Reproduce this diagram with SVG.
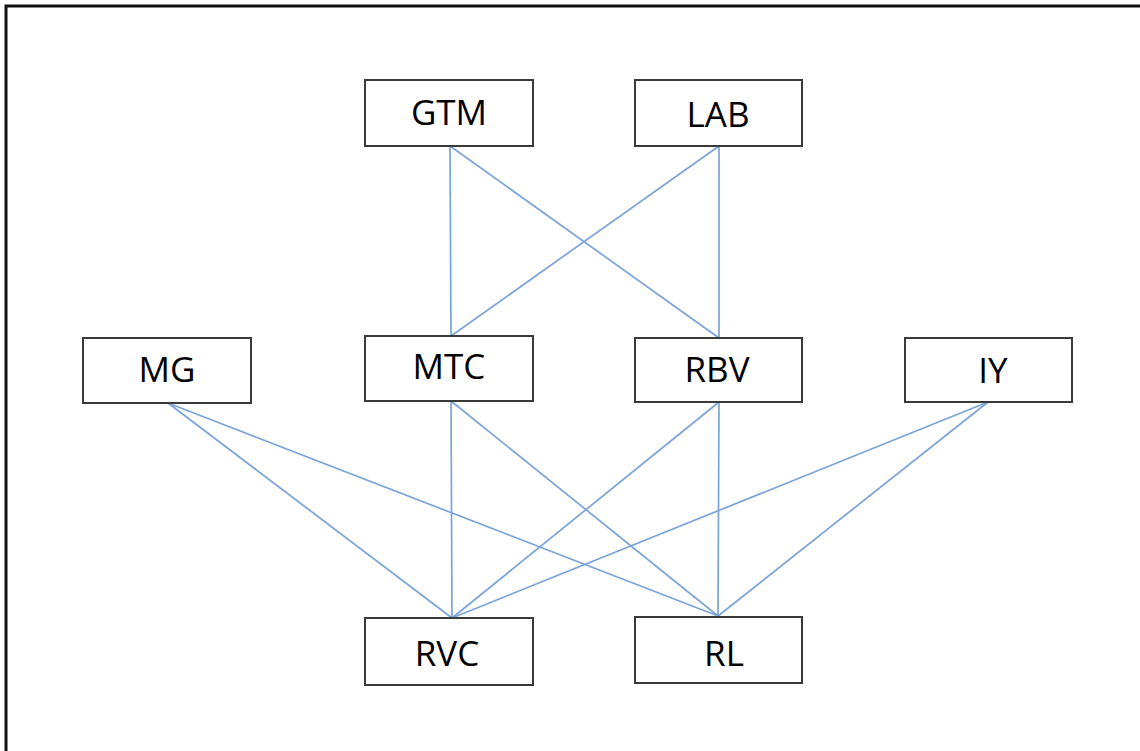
<svg xmlns="http://www.w3.org/2000/svg" width="1140" height="751" viewBox="0 0 1140 751">
<style>
.box{fill:#fff;stroke:#3a3a3a;stroke-width:2}
.lbl{font-family:"Open Sans","Liberation Sans",sans-serif;font-size:35px;fill:#000;text-anchor:middle}
.edge{stroke:#7aa3d8;stroke-width:1.7;fill:none}
</style>
<rect width="1140" height="751" fill="#fff"/>
<path d="M6,751 V6 H1140" fill="none" stroke="#111" stroke-width="3"/>
<g id="connectors">
<line class="edge" x1="450" y1="146" x2="451" y2="336"/>
<line class="edge" x1="450" y1="146" x2="719" y2="338"/>
<line class="edge" x1="719" y1="146" x2="451" y2="336"/>
<line class="edge" x1="719" y1="146" x2="719" y2="338"/>
<line class="edge" x1="168" y1="403" x2="452" y2="618"/>
<line class="edge" x1="168" y1="403" x2="718" y2="616"/>
<line class="edge" x1="451" y1="401" x2="452" y2="618"/>
<line class="edge" x1="451" y1="401" x2="718" y2="616"/>
<line class="edge" x1="719" y1="402" x2="452" y2="618"/>
<line class="edge" x1="719" y1="402" x2="718" y2="616"/>
<line class="edge" x1="988" y1="402" x2="452" y2="618"/>
<line class="edge" x1="988" y1="402" x2="718" y2="616"/>
</g>
<g id="GTM"><rect class="box" x="365" y="80" width="168" height="66"/><text class="lbl" x="449" y="125">GTM</text></g>
<g id="LAB"><rect class="box" x="635" y="80" width="167" height="66"/><text class="lbl" x="718" y="127">LAB</text></g>
<g id="MG"><rect class="box" x="83" y="338" width="168" height="65"/><text class="lbl" x="167" y="382">MG</text></g>
<g id="MTC"><rect class="box" x="365" y="336" width="168" height="65"/><text class="lbl" x="449" y="379">MTC</text></g>
<g id="RBV"><rect class="box" x="635" y="338" width="167" height="64"/><text class="lbl" x="717" y="382">RBV</text></g>
<g id="IY"><rect class="box" x="905" y="338" width="167" height="64"/><text class="lbl" x="993" y="383">IY</text></g>
<g id="RVC"><rect class="box" x="365" y="618" width="168" height="67"/><text class="lbl" x="447" y="666">RVC</text></g>
<g id="RL"><rect class="box" x="635" y="617" width="167" height="66"/><text class="lbl" x="724" y="666">RL</text></g>
</svg>
